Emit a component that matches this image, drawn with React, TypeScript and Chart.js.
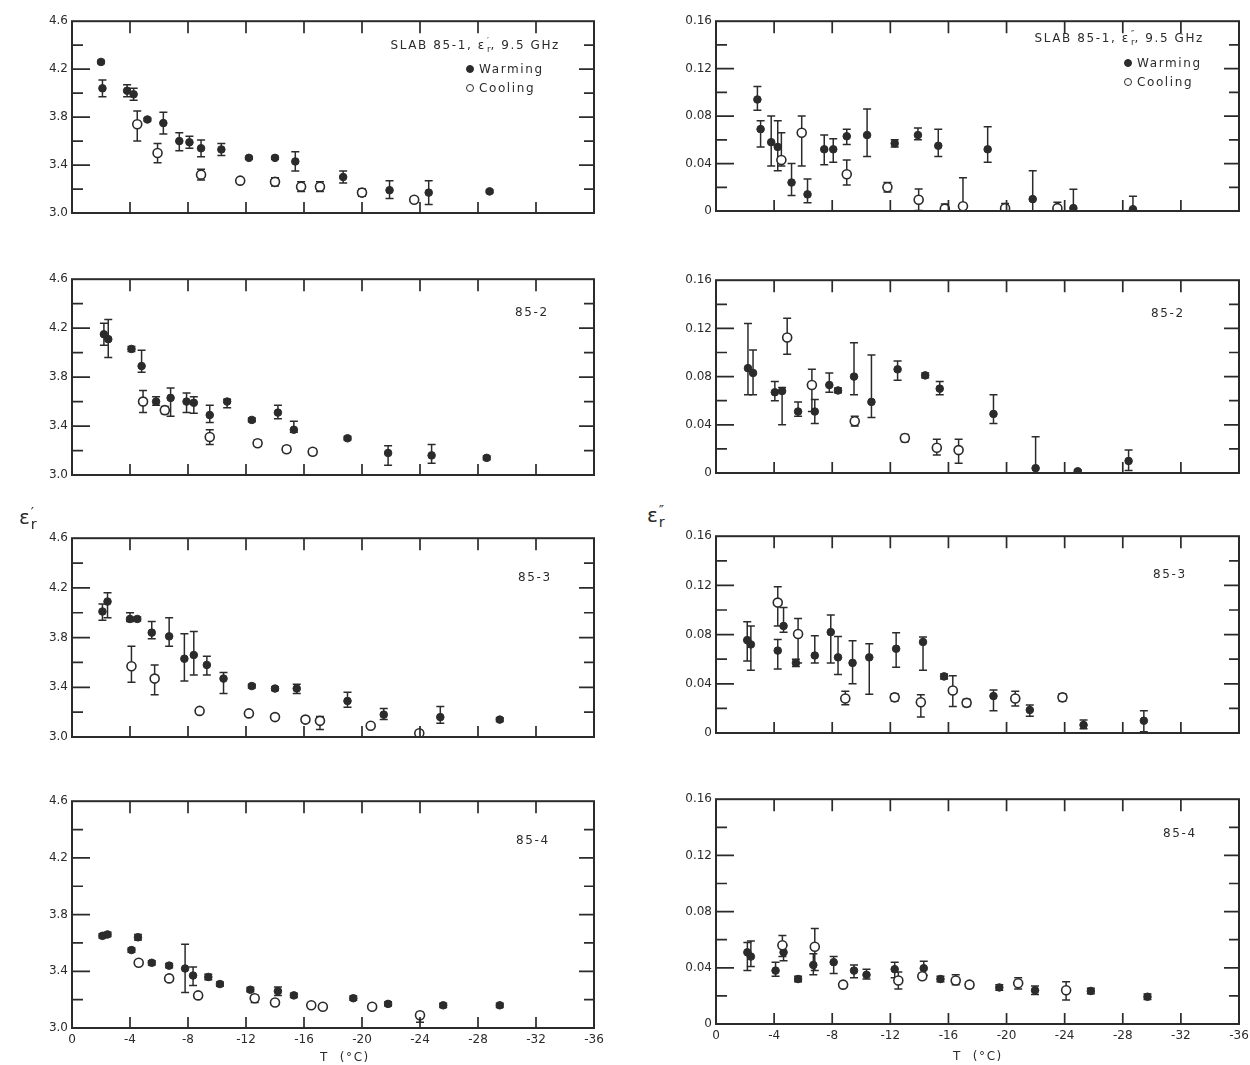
import React, { useEffect, useRef } from "react";
import { Chart, registerables } from "chart.js";

Chart.register(...registerables);

// [T (°C), value, error below, error above]
type Pt = [number, number, number, number];

// ---------- axis definitions ----------
const T_MIN = -36;
const T_MAX = 0;
const T_STEP = 4;
const EPS1_MIN = 3.0;
const EPS1_MAX = 4.6;
const EPS1_STEP = 0.2;
const EPS2_MIN = 0;
const EPS2_MAX = 0.16;
const EPS2_STEP = 0.02;

const PANEL_LABELS = ["85-1", "85-2", "85-3", "85-4"];
const SERIES_NAMES = ["Warming", "Cooling"];

// ---------- ε'r (real part) ----------
const S1_REAL_WARM: Pt[] = [
  [-2.0, 4.26, 0.012, 0.012], [-2.1, 4.04, 0.07, 0.07], [-3.8, 4.02, 0.05, 0.05],
  [-4.25, 3.99, 0.05, 0.05], [-5.2, 3.78, 0.012, 0.012], [-6.3, 3.75, 0.09, 0.09],
  [-7.4, 3.6, 0.08, 0.07], [-8.1, 3.59, 0.05, 0.05], [-8.9, 3.54, 0.07, 0.07],
  [-10.3, 3.53, 0.05, 0.05], [-12.2, 3.46, 0.012, 0.012], [-14.0, 3.46, 0.012, 0.012],
  [-15.4, 3.43, 0.08, 0.08], [-18.7, 3.3, 0.05, 0.05], [-21.9, 3.19, 0.07, 0.08],
  [-24.6, 3.17, 0.1, 0.1], [-28.8, 3.18, 0.012, 0.012],
];
const S1_REAL_COOL: Pt[] = [
  [-4.5, 3.74, 0.14, 0.11], [-5.9, 3.5, 0.08, 0.08], [-8.9, 3.32, 0.045, 0.045],
  [-11.6, 3.27, 0.012, 0.012], [-14.0, 3.26, 0.035, 0.035], [-15.8, 3.22, 0.04, 0.04],
  [-17.1, 3.22, 0.04, 0.04], [-20.0, 3.17, 0.03, 0.03], [-23.6, 3.11, 0.02, 0.02],
];
const S2_REAL_WARM: Pt[] = [
  [-2.2, 4.15, 0.09, 0.09], [-2.5, 4.11, 0.15, 0.16], [-4.1, 4.03, 0.02, 0.02],
  [-4.8, 3.89, 0.05, 0.13], [-5.8, 3.6, 0.03, 0.04], [-6.8, 3.63, 0.15, 0.08],
  [-7.9, 3.6, 0.09, 0.07], [-8.4, 3.59, 0.085, 0.05], [-9.5, 3.49, 0.06, 0.08],
  [-10.7, 3.6, 0.05, 0.02], [-12.4, 3.45, 0.015, 0.015], [-14.2, 3.51, 0.05, 0.06],
  [-15.3, 3.37, 0.02, 0.07], [-19.0, 3.3, 0.015, 0.015], [-21.8, 3.18, 0.1, 0.06],
  [-24.8, 3.16, 0.065, 0.09], [-28.6, 3.14, 0.015, 0.015],
];
const S2_REAL_COOL: Pt[] = [
  [-4.9, 3.6, 0.09, 0.09], [-6.4, 3.53, 0.03, 0.03], [-9.5, 3.31, 0.06, 0.06],
  [-12.8, 3.26, 0.025, 0.025], [-14.8, 3.21, 0.025, 0.025], [-16.6, 3.19, 0.025, 0.025],
];
const S3_REAL_WARM: Pt[] = [
  [-2.1, 4.01, 0.07, 0.06], [-2.45, 4.09, 0.13, 0.07], [-4.0, 3.95, 0.02, 0.05],
  [-4.5, 3.95, 0.015, 0.015], [-5.5, 3.84, 0.05, 0.09], [-6.7, 3.81, 0.08, 0.15],
  [-7.75, 3.63, 0.18, 0.2], [-8.4, 3.66, 0.16, 0.19], [-9.3, 3.58, 0.08, 0.07],
  [-10.45, 3.47, 0.12, 0.05], [-12.4, 3.41, 0.015, 0.015], [-14.0, 3.39, 0.015, 0.015],
  [-15.5, 3.39, 0.04, 0.035], [-19.0, 3.29, 0.05, 0.07], [-21.5, 3.18, 0.04, 0.05],
  [-25.4, 3.16, 0.05, 0.085], [-29.5, 3.14, 0.015, 0.015],
];
const S3_REAL_COOL: Pt[] = [
  [-4.1, 3.57, 0.13, 0.16], [-5.7, 3.47, 0.13, 0.11], [-8.8, 3.21, 0.015, 0.015],
  [-12.2, 3.19, 0.015, 0.015], [-14.0, 3.16, 0.015, 0.015], [-16.1, 3.14, 0.02, 0.02],
  [-17.1, 3.13, 0.07, 0.035], [-20.6, 3.09, 0.015, 0.015], [-23.95, 3.03, 0.05, 0.02],
];
const S4_REAL_WARM: Pt[] = [
  [-2.1, 3.65, 0.015, 0.015], [-2.45, 3.66, 0.015, 0.015], [-4.1, 3.55, 0.015, 0.015],
  [-4.55, 3.64, 0.02, 0.02], [-5.5, 3.46, 0.015, 0.015], [-6.7, 3.44, 0.015, 0.015],
  [-7.8, 3.42, 0.17, 0.17], [-8.35, 3.37, 0.07, 0.06], [-9.4, 3.36, 0.02, 0.02],
  [-10.2, 3.31, 0.015, 0.015], [-12.3, 3.27, 0.015, 0.015], [-14.2, 3.26, 0.03, 0.03],
  [-15.3, 3.23, 0.015, 0.015], [-19.4, 3.21, 0.015, 0.015], [-21.8, 3.17, 0.015, 0.015],
  [-25.6, 3.16, 0.015, 0.015], [-29.5, 3.16, 0.015, 0.015],
];
const S4_REAL_COOL: Pt[] = [
  [-4.6, 3.46, 0.015, 0.015], [-6.7, 3.35, 0.02, 0.02], [-8.7, 3.23, 0.015, 0.015],
  [-12.6, 3.21, 0.03, 0.02], [-14.0, 3.18, 0.015, 0.015], [-16.5, 3.16, 0.015, 0.015],
  [-17.3, 3.15, 0.015, 0.015], [-20.7, 3.15, 0.015, 0.015], [-24.0, 3.09, 0.05, 0.02],
];

// ---------- ε''r (imaginary part) ----------
const S1_IMAG_WARM: Pt[] = [
  [-2.85, 0.094, 0.009, 0.011], [-3.07, 0.069, 0.015, 0.007], [-3.8, 0.058, 0.02, 0.022],
  [-4.25, 0.054, 0.02, 0.022], [-5.2, 0.024, 0.011, 0.016], [-6.3, 0.014, 0.007, 0.013],
  [-7.45, 0.052, 0.013, 0.012], [-8.07, 0.052, 0.011, 0.009], [-9.0, 0.063, 0.007, 0.006],
  [-10.4, 0.064, 0.018, 0.022], [-12.3, 0.057, 0.003, 0.003], [-13.9, 0.064, 0.004, 0.006],
  [-15.3, 0.055, 0.009, 0.014], [-18.7, 0.052, 0.011, 0.019], [-21.8, 0.01, 0.01, 0.024],
  [-24.6, 0.0024, 0.0024, 0.016], [-28.7, 0.0015, 0.0015, 0.011],
];
const S1_IMAG_COOL: Pt[] = [
  [-4.5, 0.043, 0.005, 0.023], [-5.9, 0.066, 0.028, 0.014], [-9.0, 0.031, 0.009, 0.012],
  [-11.8, 0.02, 0.004, 0.004], [-13.95, 0.0095, 0.009, 0.009], [-15.75, 0.002, 0.002, 0.004],
  [-17.0, 0.004, 0.004, 0.024], [-19.9, 0.0024, 0.0024, 0.004], [-23.5, 0.0024, 0.0024, 0.005],
];
const S2_IMAG_WARM: Pt[] = [
  [-2.2, 0.087, 0.022, 0.037], [-2.55, 0.083, 0.018, 0.019], [-4.05, 0.067, 0.007, 0.009],
  [-4.55, 0.068, 0.028, 0.003], [-5.65, 0.051, 0.004, 0.008], [-6.8, 0.051, 0.01, 0.01],
  [-7.8, 0.073, 0.006, 0.01], [-8.4, 0.0685, 0.002, 0.002], [-9.5, 0.08, 0.015, 0.028],
  [-10.7, 0.059, 0.013, 0.039], [-12.5, 0.086, 0.009, 0.007], [-14.4, 0.081, 0.002, 0.002],
  [-15.4, 0.07, 0.005, 0.006], [-19.1, 0.049, 0.008, 0.016], [-22.0, 0.004, 0.004, 0.026],
  [-24.9, 0.0014, 0.001, 0.001], [-28.4, 0.01, 0.008, 0.009],
];
const S2_IMAG_COOL: Pt[] = [
  [-4.9, 0.1125, 0.014, 0.016], [-6.6, 0.073, 0.022, 0.013], [-9.55, 0.043, 0.004, 0.004],
  [-13.0, 0.029, 0.003, 0.003], [-15.2, 0.021, 0.006, 0.007], [-16.7, 0.019, 0.011, 0.009],
];
const S3_IMAG_WARM: Pt[] = [
  [-2.15, 0.0755, 0.017, 0.015], [-2.4, 0.072, 0.021, 0.015], [-4.25, 0.067, 0.015, 0.009],
  [-4.65, 0.087, 0.005, 0.015], [-5.5, 0.057, 0.003, 0.003], [-6.8, 0.063, 0.006, 0.016],
  [-7.9, 0.082, 0.025, 0.014], [-8.4, 0.0615, 0.014, 0.017], [-9.4, 0.057, 0.017, 0.018],
  [-10.55, 0.0615, 0.03, 0.011], [-12.4, 0.0685, 0.015, 0.013], [-14.25, 0.074, 0.023, 0.004],
  [-15.7, 0.046, 0.002, 0.002], [-19.1, 0.03, 0.012, 0.005], [-21.6, 0.0187, 0.005, 0.004],
  [-25.3, 0.0065, 0.003, 0.004], [-29.45, 0.01, 0.009, 0.008],
];
const S3_IMAG_COOL: Pt[] = [
  [-4.25, 0.106, 0.019, 0.013], [-5.65, 0.0805, 0.0235, 0.0125], [-8.9, 0.028, 0.005, 0.006],
  [-12.3, 0.029, 0.003, 0.003], [-14.1, 0.025, 0.012, 0.006], [-16.3, 0.0345, 0.013, 0.012],
  [-17.25, 0.0245, 0.003, 0.003], [-20.6, 0.028, 0.006, 0.006], [-23.85, 0.029, 0.003, 0.003],
];
const S4_IMAG_WARM: Pt[] = [
  [-2.16, 0.051, 0.013, 0.007], [-2.4, 0.048, 0.007, 0.011], [-4.1, 0.038, 0.004, 0.006],
  [-4.65, 0.051, 0.006, 0.005], [-5.65, 0.032, 0.002, 0.002], [-6.7, 0.042, 0.007, 0.008],
  [-8.1, 0.044, 0.008, 0.004], [-9.5, 0.038, 0.005, 0.004], [-10.36, 0.035, 0.003, 0.004],
  [-12.3, 0.039, 0.006, 0.005], [-14.3, 0.0397, 0.005, 0.005], [-15.45, 0.032, 0.002, 0.002],
  [-19.5, 0.026, 0.002, 0.002], [-21.96, 0.024, 0.003, 0.003], [-25.8, 0.0235, 0.002, 0.002],
  [-29.7, 0.0194, 0.002, 0.002],
];
const S4_IMAG_COOL: Pt[] = [
  [-4.57, 0.056, 0.008, 0.007], [-6.8, 0.055, 0.017, 0.013], [-8.75, 0.028, 0.002, 0.002],
  [-12.55, 0.031, 0.006, 0.006], [-14.2, 0.034, 0.002, 0.002], [-16.5, 0.031, 0.003, 0.004],
  [-17.45, 0.028, 0.002, 0.002], [-20.8, 0.029, 0.004, 0.004], [-24.1, 0.024, 0.007, 0.006],
];

// ---------- styling / layout ----------
const INK = "#2b2b2b";
const FONT = "'DejaVu Sans', 'Liberation Sans', sans-serif";
const AXW = 50; // y-axis label band
const PT = 8;
const PR = 16;
const PB = 6;
const PBX = 30; // x-axis label band on bottom panels

type Frame = { x1: number; y1: number; x2: number; y2: number };

const LEFT_FRAMES: Frame[] = [
  { x1: 72, y1: 18, x2: 594, y2: 243 },
  { x1: 72, y1: 276, x2: 594, y2: 505 },
  { x1: 72, y1: 535, x2: 594, y2: 767 },
  { x1: 72, y1: 798, x2: 594, y2: 1028 },
];
const RIGHT_FRAMES: Frame[] = [
  { x1: 716, y1: 18, x2: 1239, y2: 241 },
  { x1: 716, y1: 277, x2: 1239, y2: 503 },
  { x1: 716, y1: 533, x2: 1239, y2: 763 },
  { x1: 716, y1: 796, x2: 1239, y2: 1024 },
];

const realFmt = (v: number) => {
  const k = Math.round(v * 10);
  return k % 4 === 2 ? (k / 10).toFixed(1) : "";
};
const imagFmt = (v: number) => {
  const k = Math.round(v * 100);
  if (k % 4 !== 0) return "";
  return k === 0 ? "0" : (k / 100).toFixed(2);
};

const errorBarPlugin = {
  id: "errorBars",
  beforeDatasetsDraw(chart: any) {
    const { ctx, chartArea: a } = chart;
    const ys = chart.scales.y;
    ctx.save();
    ctx.beginPath();
    ctx.rect(a.left, a.top, a.right - a.left, a.bottom - a.top);
    ctx.clip();
    ctx.strokeStyle = INK;
    ctx.lineWidth = 1.5;
    chart.data.datasets.forEach((ds: any, di: number) => {
      const meta = chart.getDatasetMeta(di);
      (ds.errs || []).forEach((e: number[], i: number) => {
        const el = meta.data[i];
        if (!el) return;
        const v = ds.data[i].y;
        const x = el.x;
        const yLo = ys.getPixelForValue(v - e[0]);
        const yHi = ys.getPixelForValue(v + e[1]);
        ctx.beginPath();
        ctx.moveTo(x, yLo);
        ctx.lineTo(x, yHi);
        ctx.moveTo(x - 4, yLo);
        ctx.lineTo(x + 4, yLo);
        ctx.moveTo(x - 4, yHi);
        ctx.lineTo(x + 4, yHi);
        ctx.stroke();
      });
    });
    ctx.restore();
  },
};

const framePlugin = {
  id: "frameTicks",
  afterDraw(chart: any) {
    const { ctx, chartArea: a } = chart;
    const xs = chart.scales.x;
    const ys = chart.scales.y;
    ctx.save();
    ctx.strokeStyle = INK;
    ctx.lineWidth = 2;
    ctx.strokeRect(a.left, a.top, a.right - a.left, a.bottom - a.top);
    ctx.lineWidth = 1.7;
    ctx.beginPath();
    xs.ticks.forEach((t: any) => {
      if (t.value <= T_MIN || t.value >= T_MAX) return;
      const x = xs.getPixelForValue(t.value);
      ctx.moveTo(x, a.top);
      ctx.lineTo(x, a.top + 12);
      ctx.moveTo(x, a.bottom);
      ctx.lineTo(x, a.bottom - 11);
    });
    const fmt = ys.options.ticks.callback;
    ys.ticks.forEach((t: any) => {
      if (t.value <= ys.min + 1e-9 || t.value >= ys.max - 1e-9) return;
      const y = ys.getPixelForValue(t.value);
      const major = fmt(t.value) !== "";
      ctx.moveTo(a.left, y);
      ctx.lineTo(a.left + (major ? 18 : 11), y);
      ctx.moveTo(a.right, y);
      ctx.lineTo(a.right - (major ? 15 : 10), y);
    });
    ctx.stroke();
    ctx.restore();
  },
};

type PanelProps = {
  warm: Pt[];
  cool: Pt[];
  frame: Frame;
  yMin: number;
  yMax: number;
  yStep: number;
  yFmt: (v: number) => string;
  showX: boolean;
};

function Panel({ warm, cool, frame, yMin, yMax, yStep, yFmt, showX }: PanelProps) {
  const ref = useRef<HTMLCanvasElement | null>(null);
  const w = AXW + (frame.x2 - frame.x1) + PR;
  const h = PT + (frame.y2 - frame.y1) + (showX ? PBX : PB);
  useEffect(() => {
    if (!ref.current) return;
    const font = { family: FONT, size: 12 };
    const chart = new Chart(ref.current, {
      type: "scatter",
      data: {
        datasets: [
          {
            label: SERIES_NAMES[1],
            data: cool.map((p) => ({ x: p[0], y: p[1] })),
            errs: cool.map((p) => [p[2], p[3]]),
            pointStyle: "circle",
            pointRadius: 4.5,
            pointBackgroundColor: "#ffffff",
            pointBorderColor: INK,
            pointBorderWidth: 1.6,
          } as any,
          {
            label: SERIES_NAMES[0],
            data: warm.map((p) => ({ x: p[0], y: p[1] })),
            errs: warm.map((p) => [p[2], p[3]]),
            pointStyle: "circle",
            pointRadius: 3.8,
            pointBackgroundColor: INK,
            pointBorderColor: INK,
            pointBorderWidth: 1,
          } as any,
        ],
      },
      options: {
        animation: false,
        responsive: false,
        devicePixelRatio: 1,
        events: [],
        layout: { padding: { top: PT, right: PR, bottom: showX ? 0 : PB, left: 0 } },
        plugins: { legend: { display: false }, tooltip: { enabled: false } },
        scales: {
          x: {
            type: "linear",
            min: T_MIN,
            max: T_MAX,
            reverse: true,
            display: showX,
            grid: { display: false, drawTicks: false },
            border: { display: false },
            ticks: {
              stepSize: T_STEP,
              autoSkip: false,
              maxRotation: 0,
              padding: 5,
              color: INK,
              font,
            },
            afterFit: (s: any) => {
              s.height = PBX;
            },
          },
          y: {
            type: "linear",
            min: yMin,
            max: yMax,
            grid: { display: false, drawTicks: false },
            border: { display: false },
            ticks: {
              stepSize: yStep,
              autoSkip: false,
              padding: 4,
              color: INK,
              font,
              callback: (v: any) => yFmt(Number(v)),
            },
            afterFit: (s: any) => {
              s.width = AXW;
            },
          },
        },
      } as any,
      plugins: [errorBarPlugin, framePlugin],
    });
    return () => chart.destroy();
  }, []);
  return (
    <div
      style={{
        position: "absolute",
        left: frame.x1 - AXW,
        top: frame.y1 - PT,
        width: w,
        height: h,
      }}
    >
      <canvas ref={ref} width={w} height={h} style={{ width: w, height: h, display: "block" }} />
    </div>
  );
}

function Eps({ mark, size }: { mark: string; size: number }) {
  return (
    <span style={{ whiteSpace: "nowrap", fontSize: size, color: INK }}>
      ε
      <span
        style={{
          display: "inline-block",
          verticalAlign: "middle",
          lineHeight: 0.85,
          fontSize: size * 0.72,
          marginLeft: 1,
          textAlign: "left",
          letterSpacing: 0,
        }}
      >
        <span style={{ display: "block" }}>{mark}</span>
        <span style={{ display: "block" }}>r</span>
      </span>
    </span>
  );
}

const txt: React.CSSProperties = {
  position: "absolute",
  fontFamily: FONT,
  fontSize: 12,
  color: INK,
  whiteSpace: "nowrap",
  letterSpacing: 1.6,
  lineHeight: "14px",
};

function Dot({ open }: { open: boolean }) {
  return (
    <span
      style={{
        display: "inline-block",
        width: 6,
        height: 6,
        borderRadius: "50%",
        border: `1.5px solid ${INK}`,
        background: open ? "#fff" : INK,
        marginRight: 5,
        verticalAlign: "middle",
        position: "relative",
        top: -1,
      }}
    />
  );
}

export default function App() {
  const realWarm = [S1_REAL_WARM, S2_REAL_WARM, S3_REAL_WARM, S4_REAL_WARM];
  const realCool = [S1_REAL_COOL, S2_REAL_COOL, S3_REAL_COOL, S4_REAL_COOL];
  const imagWarm = [S1_IMAG_WARM, S2_IMAG_WARM, S3_IMAG_WARM, S4_IMAG_WARM];
  const imagCool = [S1_IMAG_COOL, S2_IMAG_COOL, S3_IMAG_COOL, S4_IMAG_COOL];
  const leftLabelPos = [null, { l: 515, t: 305 }, { l: 518, t: 570 }, { l: 516, t: 833 }];
  const rightLabelPos = [null, { l: 1151, t: 306 }, { l: 1153, t: 567 }, { l: 1163, t: 826 }];
  return (
    <div
      style={{
        position: "absolute",
        left: 0,
        top: 0,
        width: 1250,
        height: 1065,
        overflow: "hidden",
        background: "#ffffff",
      }}
    >
      {LEFT_FRAMES.map((f, i) => (
        <Panel
          key={"l" + i}
          warm={realWarm[i]}
          cool={realCool[i]}
          frame={f}
          yMin={EPS1_MIN}
          yMax={EPS1_MAX}
          yStep={EPS1_STEP}
          yFmt={realFmt}
          showX={i === 3}
        />
      ))}
      {RIGHT_FRAMES.map((f, i) => (
        <Panel
          key={"r" + i}
          warm={imagWarm[i]}
          cool={imagCool[i]}
          frame={f}
          yMin={EPS2_MIN}
          yMax={EPS2_MAX}
          yStep={EPS2_STEP}
          yFmt={imagFmt}
          showX={i === 3}
        />
      ))}

      {/* panel 1 headers and legends */}
      <div style={{ ...txt, right: 1250 - 560, top: 38 }}>
        SLAB {PANEL_LABELS[0]}, <Eps mark="′" size={12} />, 9.5 GHz
      </div>
      <div style={{ ...txt, left: 466, top: 62 }}>
        <Dot open={false} />
        {SERIES_NAMES[0]}
      </div>
      <div style={{ ...txt, left: 466, top: 81 }}>
        <Dot open={true} />
        {SERIES_NAMES[1]}
      </div>
      <div style={{ ...txt, right: 1250 - 1204, top: 31 }}>
        SLAB {PANEL_LABELS[0]}, <Eps mark="″" size={12} />, 9.5 GHz
      </div>
      <div style={{ ...txt, left: 1124, top: 56 }}>
        <Dot open={false} />
        {SERIES_NAMES[0]}
      </div>
      <div style={{ ...txt, left: 1124, top: 75 }}>
        <Dot open={true} />
        {SERIES_NAMES[1]}
      </div>

      {leftLabelPos.map((p, i) =>
        p ? (
          <div key={"ll" + i} style={{ ...txt, left: p.l, top: p.t }}>
            {PANEL_LABELS[i]}
          </div>
        ) : null
      )}
      {rightLabelPos.map((p, i) =>
        p ? (
          <div key={"rl" + i} style={{ ...txt, left: p.l, top: p.t }}>
            {PANEL_LABELS[i]}
          </div>
        ) : null
      )}

      {/* axis titles */}
      <div style={{ ...txt, left: 19, top: 506, letterSpacing: 0 }}>
        <Eps mark="′" size={20} />
      </div>
      <div style={{ ...txt, left: 647, top: 504, letterSpacing: 0 }}>
        <Eps mark="″" size={20} />
      </div>
      <div style={{ ...txt, left: 320, top: 1050 }}>T&nbsp;&nbsp;(°C)</div>
      <div style={{ ...txt, left: 953, top: 1049 }}>T&nbsp;&nbsp;(°C)</div>
    </div>
  );
}
